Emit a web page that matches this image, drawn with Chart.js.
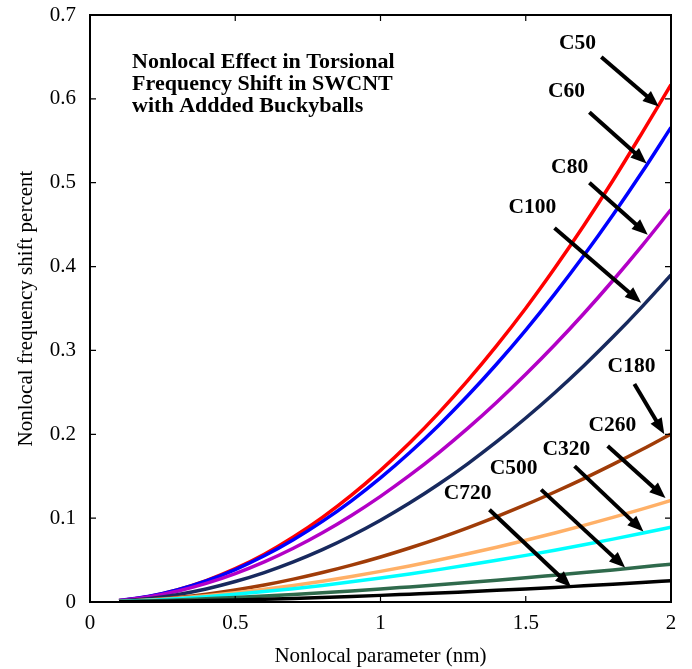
<!DOCTYPE html>
<html>
<head>
<meta charset="utf-8">
<script src="https://cdn.jsdelivr.net/npm/chart.js@4/dist/chart.umd.min.js"></script>
<style>
  html, body { margin: 0; padding: 0; background: #fff; }
  #wrap { width: 692px; height: 669px; }
</style>
</head>
<body>
<div id="wrap"><canvas id="shiftChart" width="692" height="669"></canvas></div>
<script>
// nonlocal parameter (nm)
const xs = [0.1, 0.2, 0.3, 0.4, 0.5, 0.6, 0.7, 0.8, 0.9, 1.0,
            1.1, 1.2, 1.3, 1.4, 1.5, 1.6, 1.7, 1.8, 1.9, 2.0];

const c50  = [0.0017, 0.0064, 0.0145, 0.0256, 0.0398, 0.0570, 0.0775, 0.1009, 0.1274, 0.1570,
              0.1896, 0.2253, 0.2640, 0.3057, 0.3503, 0.3982, 0.4489, 0.5026, 0.5592, 0.6170];
const c60  = [0.0017, 0.0066, 0.0144, 0.0251, 0.0387, 0.0551, 0.0742, 0.0961, 0.1207, 0.1480,
              0.1780, 0.2106, 0.2459, 0.2838, 0.3243, 0.3675, 0.4132, 0.4615, 0.5124, 0.5660];
const c80  = [0.0016, 0.0060, 0.0129, 0.0222, 0.0339, 0.0479, 0.0641, 0.0826, 0.1032, 0.1260,
              0.1509, 0.1779, 0.2070, 0.2382, 0.2715, 0.3067, 0.3440, 0.3834, 0.4247, 0.4680];
const c100 = [0.0012, 0.0039, 0.0088, 0.0156, 0.0244, 0.0351, 0.0478, 0.0624, 0.0790, 0.0975,
              0.1180, 0.1404, 0.1648, 0.1911, 0.2194, 0.2496, 0.2818, 0.3159, 0.3520, 0.3900];
const c180 = [0.0007, 0.0025, 0.0055, 0.0094, 0.0144, 0.0203, 0.0273, 0.0352, 0.0440, 0.0537,
              0.0644, 0.0759, 0.0884, 0.1018, 0.1160, 0.1312, 0.1472, 0.1641, 0.1818, 0.2004];
const c260 = [0.0007, 0.0023, 0.0046, 0.0075, 0.0110, 0.0151, 0.0197, 0.0248, 0.0304, 0.0365,
              0.0430, 0.0500, 0.0575, 0.0653, 0.0736, 0.0823, 0.0914, 0.1009, 0.1108, 0.1211];
const c320 = [0.0007, 0.0020, 0.0040, 0.0064, 0.0092, 0.0124, 0.0159, 0.0198, 0.0241, 0.0286,
              0.0334, 0.0386, 0.0440, 0.0497, 0.0556, 0.0618, 0.0683, 0.0750, 0.0819, 0.0891];
const c500 = [0.0005, 0.0013, 0.0024, 0.0038, 0.0053, 0.0071, 0.0090, 0.0110, 0.0132, 0.0155,
              0.0180, 0.0205, 0.0232, 0.0260, 0.0289, 0.0320, 0.0351, 0.0383, 0.0417, 0.0451];
const c720 = [0.0002, 0.0005, 0.0011, 0.0017, 0.0025, 0.0034, 0.0043, 0.0054, 0.0066, 0.0079,
              0.0093, 0.0107, 0.0123, 0.0139, 0.0156, 0.0174, 0.0193, 0.0212, 0.0232, 0.0253];

const seriesNames  = ['C50', 'C60', 'C80', 'C100', 'C180', 'C260', 'C320', 'C500', 'C720'];
const seriesValues = [c50, c60, c80, c100, c180, c260, c320, c500, c720];
const seriesColors = ['#ff0000', '#0000ff', '#b300c6', '#17295e', '#a03c08',
                      '#ffb067', '#00ffff', '#2f6a4c', '#000000'];

const xTicks = [0, 0.5, 1, 1.5, 2];
const xTickLabels = ['0', '0.5', '1', '1.5', '2'];
const yTicks = [0, 0.1, 0.2, 0.3, 0.4, 0.5, 0.6, 0.7];
const yTickLabels = ['0', '0.1', '0.2', '0.3', '0.4', '0.5', '0.6', '0.7'];

// label position and arrow start / tip, in data units
const labelPos   = [[1.678, 0.666], [1.640, 0.609], [1.651, 0.518], [1.523, 0.470], [1.864, 0.281],
                    [1.798, 0.210], [1.640, 0.182], [1.458, 0.159], [1.300, 0.130]];
const arrowFrom  = [[1.760, 0.650], [1.719, 0.584], [1.719, 0.500], [1.599, 0.446], [1.874, 0.260],
                    [1.782, 0.186], [1.668, 0.162], [1.553, 0.134], [1.375, 0.110]];
const arrowTo    = [[1.958, 0.591], [1.916, 0.523], [1.920, 0.438], [1.897, 0.357], [1.977, 0.200],
                    [1.981, 0.124], [1.905, 0.084], [1.842, 0.041], [1.656, 0.018]];

const titleLines = ['Nonlocal Effect in Torsional', 'Frequency Shift in SWCNT', 'with Addded Buckyballs'];
const titlePos = [0.145, 0.643];

const serif = "'Liberation Serif', 'Times New Roman', serif";

function drawArrow(ctx, x1, y1, x2, y2) {
    const ang = Math.atan2(y2 - y1, x2 - x1);
    const headLen = 16, headHalf = 6.5;
    const bx = x2 - headLen * Math.cos(ang);
    const by = y2 - headLen * Math.sin(ang);
    ctx.beginPath();
    ctx.moveTo(x1, y1);
    ctx.lineTo(bx + 2 * Math.cos(ang), by + 2 * Math.sin(ang));
    ctx.lineWidth = 4;
    ctx.strokeStyle = '#000';
    ctx.stroke();
    ctx.beginPath();
    ctx.moveTo(x2, y2);
    ctx.lineTo(bx + headHalf * Math.sin(ang), by - headHalf * Math.cos(ang));
    ctx.lineTo(bx - headHalf * Math.sin(ang), by + headHalf * Math.cos(ang));
    ctx.closePath();
    ctx.fillStyle = '#000';
    ctx.fill();
}

const framePlugin = {
    id: 'frame',
    afterDatasetsDraw(chart) {
        const ctx = chart.ctx;
        const a = chart.chartArea;
        const xs_ = chart.scales.x, ys_ = chart.scales.y;
        ctx.save();
        // box
        ctx.strokeStyle = '#000';
        ctx.lineWidth = 2;
        ctx.strokeRect(a.left, a.top, a.right - a.left, a.bottom - a.top);
        // inner ticks on all four sides
        ctx.lineWidth = 1.2;
        ctx.beginPath();
        xTicks.forEach(v => {
            const px = xs_.getPixelForValue(v);
            ctx.moveTo(px, a.bottom); ctx.lineTo(px, a.bottom - 6);
            ctx.moveTo(px, a.top); ctx.lineTo(px, a.top + 6);
        });
        yTicks.forEach(v => {
            const py = ys_.getPixelForValue(v);
            ctx.moveTo(a.left, py); ctx.lineTo(a.left + 6, py);
            ctx.moveTo(a.right, py); ctx.lineTo(a.right - 6, py);
        });
        ctx.stroke();

        // title block
        ctx.fillStyle = '#000';
        ctx.font = 'bold 22px ' + serif;
        ctx.textAlign = 'left';
        ctx.textBaseline = 'middle';
        const tx = xs_.getPixelForValue(titlePos[0]);
        const ty = ys_.getPixelForValue(titlePos[1]);
        titleLines.forEach((t, i) => ctx.fillText(t, tx, ty + i * 22));

        // arrows and labels
        ctx.font = 'bold 21.5px ' + serif;
        ctx.textAlign = 'center';
        seriesNames.forEach((name, i) => {
            drawArrow(ctx,
                xs_.getPixelForValue(arrowFrom[i][0]), ys_.getPixelForValue(arrowFrom[i][1]),
                xs_.getPixelForValue(arrowTo[i][0]), ys_.getPixelForValue(arrowTo[i][1]));
            ctx.fillText(name, xs_.getPixelForValue(labelPos[i][0]), ys_.getPixelForValue(labelPos[i][1]));
        });
        ctx.restore();
    }
};

const ctx = document.getElementById('shiftChart').getContext('2d');
new Chart(ctx, {
    type: 'line',
    data: {
        datasets: seriesNames.map((name, i) => ({
            label: name,
            data: xs.map((x, j) => ({ x: x, y: seriesValues[i][j] })),
            borderColor: seriesColors[i],
            borderWidth: 3.5,
            pointRadius: 0,
            fill: false,
            cubicInterpolationMode: 'monotone'
        })).reverse()
    },
    options: {
        responsive: false,
        animation: false,
        layout: { padding: { top: 15, right: 21, left: 0, bottom: 0 } },
        plugins: {
            legend: { display: false },
            tooltip: { enabled: false }
        },
        scales: {
            x: {
                type: 'linear',
                min: 0, max: 2,
                afterFit: s => { s.height = 67; s.paddingLeft = 0; s.paddingRight = 0; },
                afterBuildTicks: s => { s.ticks = xTicks.map(v => ({ value: v })); },
                grid: { display: false, drawTicks: false },
                border: { display: false },
                ticks: {
                    color: '#000', font: { family: serif, size: 21 }, padding: 9, maxRotation: 0,
                    callback: (v, i) => xTickLabels[i]
                },
                title: { display: true, text: 'Nonlocal parameter (nm)', color: '#000',
                         font: { family: serif, size: 21 }, padding: { top: 4, bottom: 0 } }
            },
            y: {
                type: 'linear',
                min: 0, max: 0.7,
                afterFit: s => { s.width = 90; s.paddingTop = 0; s.paddingBottom = 0; },
                afterBuildTicks: s => { s.ticks = yTicks.map(v => ({ value: v })); },
                grid: { display: false, drawTicks: false },
                border: { display: false },
                ticks: {
                    color: '#000', font: { family: serif, size: 21 }, padding: 14,
                    callback: (v, i) => yTickLabels[i]
                },
                title: { display: true, text: 'Nonlocal frequency shift percent', color: '#000',
                         font: { family: serif, size: 21 }, padding: { top: 14, bottom: 0 } }
            }
        }
    },
    plugins: [framePlugin]
});
</script>
</body>
</html>
